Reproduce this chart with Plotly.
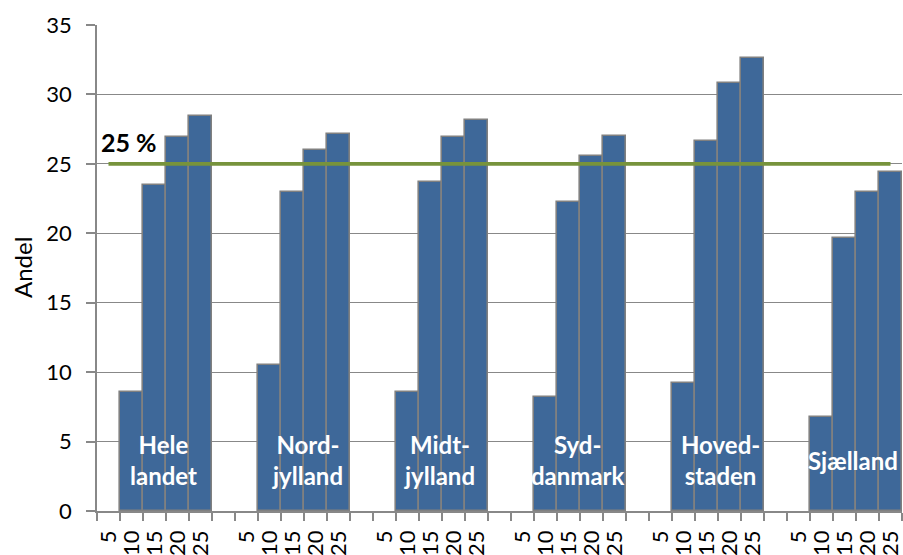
import plotly.graph_objects as go

# ---- data ----
size_labels = ["5", "10", "15", "20", "25"]
region_labels = ["Hele<br>landet", "Nord-<br>jylland", "Midt-<br>jylland",
                 "Syd-<br>danmark", "Hoved-<br>staden", "Sjælland"]
hele_landet = [None, 8.6, 23.45, 26.95, 28.43]
nordjylland = [None, 10.48, 22.98, 26.03, 27.18]
midtjylland = [None, 8.55, 23.72, 26.94, 28.19]
syddanmark = [None, 8.22, 22.26, 25.57, 26.99]
hovedstaden = [None, 9.25, 26.68, 30.81, 32.59]
sjaelland = [None, 6.8, 19.66, 23.0, 24.44]
threshold = 25
threshold_label = "25 %"

groups = [hele_landet, nordjylland, midtjylland, syddanmark, hovedstaden, sjaelland]

# ---- build category positions (5 sizes + 1 empty gap per group) ----
per_group = len(size_labels) + 1
n_cat = per_group * len(groups) - 1
xs, ys, tickvals, ticktext = [], [], [], []
for g, vals in enumerate(groups):
    for j, v in enumerate(vals):
        pos = g * per_group + j
        xs.append(pos)
        ys.append(v)
        tickvals.append(pos)
        ticktext.append(size_labels[j])

FONT = "Lato"
GRID = "#888888"

fig = go.Figure()
fig.add_trace(go.Bar(
    x=xs, y=ys, width=1,
    marker=dict(color="#3E6899", line=dict(color="#808080", width=1.6)),
    showlegend=False, hoverinfo="skip",
))
fig.add_trace(go.Scatter(
    x=list(range(n_cat)), y=[threshold] * n_cat, mode="lines",
    line=dict(color="#77933C", width=3.8), showlegend=False, hoverinfo="skip",
))

# group labels
label_x = [2.41, 8.67, 14.41, 20.41, 26.63, 32.37]
annotations = []
for lx, txt in zip(label_x, region_labels):
    annotations.append(dict(
        x=lx, y=3.65, xref="x", yref="y", text="<b>%s</b>" % txt,
        showarrow=False, font=dict(family=FONT, size=24, color="white"),
        xanchor="center", yanchor="middle",
    ))
annotations.append(dict(
    x=-0.4, y=26.6, xref="x", yref="y", text="<b>%s</b>" % threshold_label,
    showarrow=False, font=dict(family=FONT, size=25, color="black"),
    xanchor="left", yanchor="middle",
))
annotations.append(dict(
    x=-75 / 805, y=0.5, xref="paper", yref="paper", text="Andel",
    textangle=-90, showarrow=False, font=dict(family=FONT, size=24, color="black"),
    xanchor="center", yanchor="middle",
))

fig.update_layout(
    width=903, height=555,
    margin=dict(l=97, r=1, t=25, b=44, autoexpand=False),
    paper_bgcolor="white", plot_bgcolor="white",
    bargap=0,
    font=dict(family=FONT, size=22, color="black"),
    annotations=annotations,
    xaxis=dict(
        range=[-0.5, n_cat - 0.5], automargin=False,
        tickmode="array", tickvals=tickvals, ticktext=ticktext,
        tickangle=-90, ticks="", showgrid=False,
        showline=True, linecolor=GRID, linewidth=1.5,
        tickfont=dict(family=FONT, size=22, color="black"),
        minor=dict(tick0=-0.5, dtick=1, ticks="outside", ticklen=8,
                   tickcolor=GRID, tickwidth=1.5, showgrid=False),
        zeroline=False, ticklabelstandoff=9,
    ),
    yaxis=dict(
        range=[0, 35], tickmode="linear", tick0=0, dtick=5, automargin=False,
        showgrid=True, gridcolor=GRID, gridwidth=1.2,
        showline=True, linecolor=GRID, linewidth=1.5,
        ticks="outside", ticklen=9, tickcolor=GRID, tickwidth=1.5,
        tickfont=dict(family=FONT, size=22, color="black"),
        zeroline=False, ticklabelstandoff=10,
    ),
)

fig.write_html("out.html", config={"displayModeBar": False},
               post_script="document.body.style.margin='0';")
